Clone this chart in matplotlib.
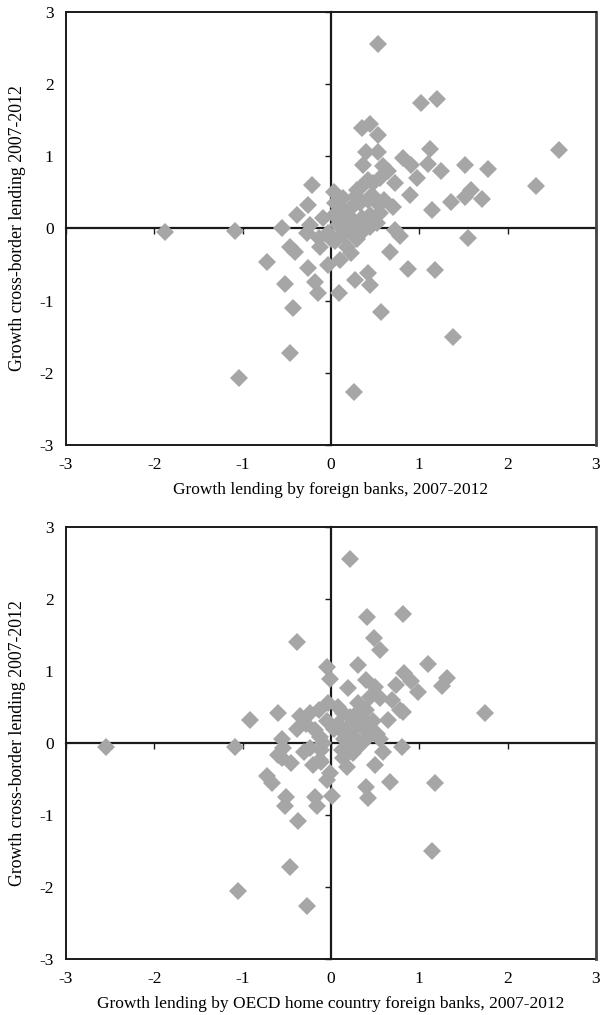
import matplotlib
matplotlib.use("Agg")
import matplotlib.pyplot as plt

plt.rcParams['font.family'] = ['Liberation Serif', 'DejaVu Serif']

# panel 1: growth lending by foreign banks vs growth cross-border lending
x_foreign = [0.53, 1.02, 1.20, 0.35, 0.44, 0.53, 0.40, 0.53, 0.36, 1.12,
             0.82, 0.91, 1.10, 1.25, 1.52, 1.78, 2.58, 2.32, 1.59, 1.52,
             1.71, 1.36, 1.14, 1.55, 0.97, 0.89, 0.59, 0.65, 0.55, 0.48,
             0.72, 0.42, 0.33, -0.22, -0.26, -0.39, 0.03, 0.14, 0.23, 0.33,
             0.42, 0.52, 0.70, 0.55, 0.44, 0.10, 0.03, -0.09, -0.55, -0.24,
             -0.27, -0.14, -0.12, -0.46, -0.41, -0.03, 0.05, 0.14, 0.22, 0.29,
             0.36, 0.18, 0.23, 0.10, 0.44, 0.52, 0.72, 0.78, 0.67, -0.26,
             -0.03, 0.42, 0.87, 1.18, 0.27, 0.44, -1.09, -1.88, -0.73, -0.52,
             -0.18, -0.15, -0.43, -0.46, -1.04, 0.26, 0.57, 0.09, 1.38, 0.29,
             0.25, 0.08, 0.30, 0.15, 0.35, 0.28, 0.60, 0.05, 0.46, 0.00,
             0.20]
y_cross1 = [2.55, 1.74, 1.79, 1.39, 1.45, 1.30, 1.06, 1.06, 0.88, 1.10,
            0.97, 0.88, 0.90, 0.79, 0.88, 0.82, 1.09, 0.59, 0.53, 0.44,
            0.41, 0.37, 0.25, -0.13, 0.70, 0.46, 0.86, 0.79, 0.70, 0.63,
            0.63, 0.67, 0.56, 0.60, 0.33, 0.19, 0.51, 0.42, 0.28, 0.35,
            0.40, 0.35, 0.30, 0.21, 0.19, 0.30, 0.19, 0.15, 0.00, 0.05,
            -0.06, -0.13, -0.25, -0.25, -0.32, -0.06, -0.18, -0.09, -0.04, 0.03,
            -0.04, -0.25, -0.34, -0.44, 0.02, 0.08, -0.02, -0.11, -0.32, -0.55,
            -0.51, -0.62, -0.56, -0.57, -0.72, -0.78, -0.04, -0.05, -0.47, -0.77,
            -0.74, -0.90, -1.10, -1.73, -2.07, -2.26, -1.16, -0.90, -1.50, 0.53,
            0.12, 0.05, -0.15, 0.15, 0.15, 0.45, 0.40, 0.35, 0.46, -0.15,
            0.00]

# panel 2: growth lending by OECD home country foreign banks
x_oecd = [0.22, 0.41, 0.81, -0.39, 0.49, 0.55, -0.05, -0.01, 0.31, 0.19,
          -0.92, -0.60, -1.09, -2.55, 1.10, 0.83, 0.91, 0.99, 1.31, 1.26,
          1.74, 0.82, 0.40, 0.50, 0.44, 0.55, 0.74, 0.69, 0.78, 0.65,
          -0.35, -0.24, -0.14, -0.28, -0.39, -0.18, -0.12, -0.09, -0.03, 0.08,
          0.14, 0.22, 0.31, 0.29, 0.40, 0.08, 0.03, 0.12, 0.20, 0.29,
          0.37, 0.48, 0.52, 0.55, 0.40, -0.56, -0.54, -0.31, -0.24, -0.11,
          -0.12, 0.12, 0.20, 0.14, 0.18, 0.29, 0.35, 0.80, 0.59, -0.60,
          -0.45, 0.50, -0.73, -0.67, -0.01, -0.05, -0.51, -0.52, -0.18, -0.16,
          0.01, -0.37, -0.46, -1.05, -0.27, 0.40, 0.42, 0.67, 0.25, -0.11,
          1.18, 1.14, -0.56, 0.25, 0.35, 0.15, -0.05, 0.45, -0.20]
y_cross2 = [2.56, 1.75, 1.79, 1.40, 1.46, 1.29, 1.06, 0.89, 1.08, 0.76,
            0.32, 0.41, -0.05, -0.05, 1.10, 0.97, 0.86, 0.71, 0.90, 0.79,
            0.41, 0.43, 0.88, 0.78, 0.64, 0.62, 0.81, 0.60, 0.46, 0.32,
            0.37, 0.41, 0.46, 0.27, 0.20, 0.18, 0.09, 0.00, 0.55, 0.50,
            0.41, 0.36, 0.55, 0.41, 0.46, 0.27, 0.20, 0.16, 0.23, 0.25,
            0.20, 0.30, 0.13, 0.06, 0.06, 0.06, -0.07, -0.12, -0.07, -0.10,
            -0.24, -0.10, -0.05, -0.21, -0.33, -0.07, 0.00, -0.06, -0.12, -0.17,
            -0.28, -0.31, -0.46, -0.56, -0.42, -0.51, -0.75, -0.88, -0.75, -0.88,
            -0.73, -1.08, -1.72, -2.06, -2.26, -0.61, -0.77, -0.54, -0.14, -0.26,
            -0.56, -1.50, -0.21, 0.10, 0.35, 0.05, 0.30, 0.15, -0.30]

ticks = [-3, -2, -1, 0, 1, 2, 3]
ylab = "Growth cross-border lending 2007-2012"
xlab1 = "Growth lending by foreign banks, 2007-2012"
xlab2 = "Growth lending by OECD home country foreign banks, 2007-2012"

fig = plt.figure(figsize=(6, 10.15), dpi=100)
ax1 = fig.add_axes([0.11, 0.5616, 0.8833, 0.4266])
ax2 = fig.add_axes([0.11, 0.0552, 0.8833, 0.4256])


def draw_panel(ax, xs, ys, xlabel):
    ax.plot(xs, ys, linestyle="none", marker="D", markersize=8.8,
            color="#a6a6a6", markeredgewidth=0, zorder=3)
    ax.set_xlim(-3, 3)
    ax.set_ylim(-3, 3)

    # crossing axes at zero carry the tick marks
    ax.spines['left'].set_position(('data', 0))
    ax.spines['bottom'].set_position(('data', 0))
    for s in ['left', 'bottom']:
        ax.spines[s].set_linewidth(1.6)
        ax.spines[s].set_color("#1a1a1a")
        ax.spines[s].set_zorder(2)
    ax.spines['top'].set_linewidth(1.4)
    ax.spines['top'].set_color("#1a1a1a")
    ax.spines['right'].set_linewidth(2.0)
    ax.spines['right'].set_color("#444444")
    ax.set_xticks(ticks)
    ax.set_yticks(ticks)
    ax.tick_params(direction="out", length=4, width=1, color="#1a1a1a",
                   labelbottom=False, labelleft=False)

    # the outer frame carries the tick labels
    sx = ax.secondary_xaxis(0.0)
    sx.set_xticks(ticks)
    sx.set_xticklabels([str(t) for t in ticks])
    sx.tick_params(length=0, pad=9, labelsize=12.5)
    sx.spines['bottom'].set_linewidth(1.4)
    sx.spines['bottom'].set_color("#1a1a1a")
    sx.set_xlabel(xlabel, fontsize=12.5, labelpad=6)

    sy = ax.secondary_yaxis(0.0)
    sy.set_yticks(ticks)
    sy.set_yticklabels([str(t) for t in ticks])
    sy.tick_params(length=0, pad=9, labelsize=12.5)
    sy.spines['left'].set_linewidth(1.4)
    sy.spines['left'].set_color("#1a1a1a")
    sy.set_ylabel(ylab, fontsize=12.8, labelpad=9)


draw_panel(ax1, x_foreign, y_cross1, xlab1)
draw_panel(ax2, x_oecd, y_cross2, xlab2)

fig.savefig("out.png", dpi=100)
